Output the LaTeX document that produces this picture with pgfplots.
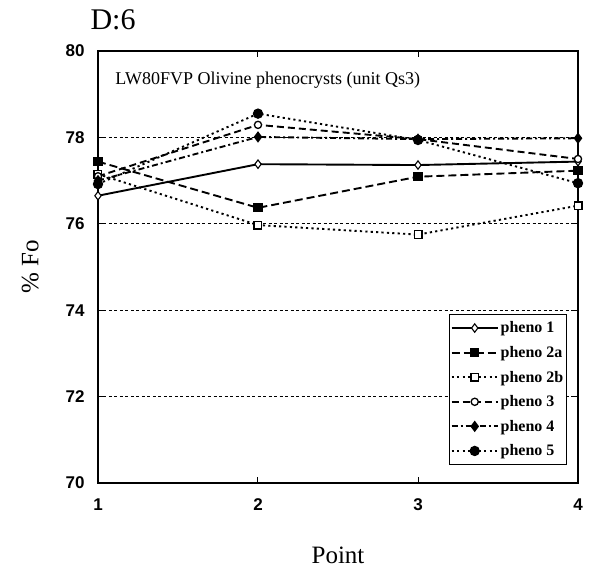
\documentclass[border=0pt]{standalone}
\usepackage{pgfplots}
\pgfplotsset{compat=1.18}
\usepackage{fontspec}
\setmainfont{Liberation Serif}
\setsansfont{Liberation Sans}

\pgfplotsset{
  olv/.style={black,line width=1.9bp},
}

\begin{document}
\begin{tikzpicture}
\useasboundingbox (-98bp,-96bp) rectangle (493bp,483bp);
\begin{axis}[
  at={(0,0)},anchor=south west,
  scale only axis,width=480bp,height=432bp,
  xmin=1,xmax=4,ymin=70,ymax=80,
  xtick={1,2,3,4},ytick={70,72,...,80},
  axis line style={line width=1.8bp},
  tick align=inside,major tick length=6bp,
  tick style={black,line width=1bp},
  ymajorgrids,
  major grid style={black,line width=1.2bp,dash pattern=on 3bp off 2.5bp},
  /pgf/number format/assume math mode=true,
  ticklabel style={font=\sffamily\bfseries\fontsize{17bp}{18bp}\selectfont},
  yticklabel style={xshift=-10bp},
  xticklabel style={yshift=-12bp},
  xlabel={Point},ylabel={\% Fo},
  label style={font=\fontsize{25bp}{28bp}\selectfont},
  xlabel style={yshift=-30bp},
  ylabel style={yshift=20bp},
  legend style={at={(0.977,0.042)},anchor=south east,draw=black,line width=1.2bp,
    fill=white,font=\bfseries\fontsize{16bp}{18bp}\selectfont,
    row sep=8bp,inner xsep=1bp,inner ysep=5bp,
    nodes={inner xsep=2bp}},
  legend cell align=left,
  legend image code/.code={\draw[mark repeat=2,mark phase=2]
    plot coordinates {(0bp,0bp)(23bp,0bp)(46bp,0bp)};},
]
\addplot[olv,solid,mark=diamond*,mark size=4.2bp,mark options={solid,fill=white,line width=1.1bp}]
  coordinates {(1,76.65)(2,77.38)(3,77.36)(4,77.44)};
\addlegendentry{pheno 1}
\addplot[olv,dash pattern=on 8bp off 4bp,mark=square*,mark size=3.6bp,mark options={solid}]
  coordinates {(1,77.44)(2,76.37)(3,77.09)(4,77.23)};
\addlegendentry{pheno 2a}
\addplot[olv,dash pattern=on 2.2bp off 3.2bp,mark=square*,mark size=3.8bp,mark options={solid,fill=white,line width=1.4bp}]
  coordinates {(1,77.15)(2,75.97)(3,75.75)(4,76.42)};
\addlegendentry{pheno 2b}
\addplot[olv,dash pattern=on 7bp off 4bp,mark=*,mark size=3.6bp,mark options={solid,fill=white,line width=1.3bp}]
  coordinates {(1,77.10)(2,78.29)(3,77.96)(4,77.50)};
\addlegendentry{pheno 3}
\addplot[olv,dash pattern=on 6bp off 3bp on 2bp off 3bp,mark=diamond*,mark size=4.2bp,mark options={solid}]
  coordinates {(1,77.00)(2,78.01)(3,77.96)(4,77.98)};
\addlegendentry{pheno 4}
\addplot[olv,dash pattern=on 2.2bp off 3.2bp,mark=*,mark size=4.2bp,mark options={solid}]
  coordinates {(1,76.92)(2,78.55)(3,77.94)(4,76.94)};
\addlegendentry{pheno 5}
\node[anchor=west,font=\fontsize{18bp}{20bp}\selectfont]
  at (rel axis cs:0.029,0.933) {LW80FVP Olivine phenocrysts (unit Qs3)};
\end{axis}
\node[font=\fontsize{30bp}{32bp}\selectfont] at (15bp,463bp) {D:6};
\end{tikzpicture}
\end{document}
